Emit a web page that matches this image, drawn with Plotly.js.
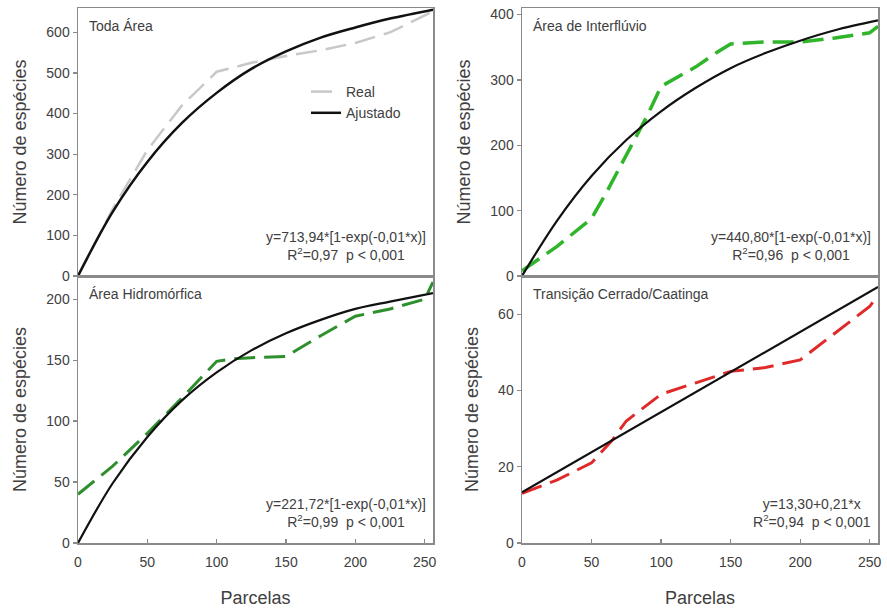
<!DOCTYPE html>
<html>
<head>
<meta charset="utf-8">
<script src="https://cdn.plot.ly/plotly-3.0.1.min.js"></script>
<style>html,body{margin:0;padding:0;background:#fff;}#chart{width:887px;height:608px;}</style>
</head>
<body>
<div id="chart"></div>
<script>
// ---- Data ----
var xTicks = [0, 50, 100, 150, 200, 250];

// Toda Área
var todaRealX = [0, 25, 50, 75, 100, 125, 150, 175, 200, 225, 256];
var todaRealY = [0, 165, 310, 420, 503, 525, 542, 556, 574, 600, 652];
var todaFitX  = [0, 25, 50, 75, 100, 125, 150, 175, 200, 225, 256];
var todaFitY  = [0, 158, 281, 377, 451, 510, 553, 587, 612, 634, 656];

// Área de Interflúvio
var interRealX = [0, 25, 50, 60, 75, 90, 100, 112, 125, 140, 150, 175, 200, 225, 250, 256];
var interRealY = [8, 45, 88, 125, 185, 245, 290, 305, 320, 342, 355, 358, 358, 364, 372, 382];
var interFitX  = [0, 25, 50, 75, 100, 125, 150, 175, 200, 225, 256];
var interFitY  = [0, 84, 153, 208, 252, 288, 318, 341, 360, 376, 391];

// Área Hidromórfica
var hidroRealX = [0, 25, 50, 75, 100, 112, 125, 150, 175, 200, 225, 250, 256];
var hidroRealY = [40, 63, 90, 119, 149, 151, 152, 153, 170, 186, 192, 200, 214];
var hidroFitX  = [0, 25, 50, 75, 100, 125, 150, 175, 200, 225, 256];
var hidroFitY  = [0, 49, 87, 117, 140, 158, 172, 183, 192, 198, 205];

// Transição Cerrado/Caatinga
var transRealX = [0, 25, 50, 65, 75, 100, 125, 150, 175, 200, 225, 250, 256];
var transRealY = [13, 16.5, 21, 27, 32, 39, 42, 45, 46, 48, 55, 62, 65];
var transFitX  = [0, 256];
var transFitY  = [13.3, 67.1];

var panelLabels = ["Toda Área", "Área de Interflúvio", "Área Hidromórfica", "Transição Cerrado/Caatinga"];
var equations = [
  "y=713,94*[1-exp(-0,01*x)]<br>R<sup>2</sup>=0,97&nbsp; p &lt; 0,001",
  "y=440,80*[1-exp(-0,01*x)]<br>R<sup>2</sup>=0,96&nbsp; p &lt; 0,001",
  "y=221,72*[1-exp(-0,01*x)]<br>R<sup>2</sup>=0,99&nbsp; p &lt; 0,001",
  "y=13,30+0,21*x<br>R<sup>2</sup>=0,94&nbsp; p &lt; 0,001"
];
var legendNames = ["Real", "Ajustado"];
var xTitle = "Parcelas";
var yTitle = "Número de espécies";

// ---- Styles ----
var FONT = "Liberation Sans, Arial, sans-serif";
var TXT = "#404040";
var AX = "#8a8a8a";
var DASH = "21px,9px";

var traces = [
  {x: todaRealX, y: todaRealY, xaxis: "x", yaxis: "y", mode: "lines", name: legendNames[0],
   line: {color: "#c8c8c8", width: 2.5, dash: DASH}, showlegend: true},
  {x: todaFitX, y: todaFitY, xaxis: "x", yaxis: "y", mode: "lines", name: legendNames[1],
   line: {color: "#111111", width: 2.5, shape: "spline"}, showlegend: true},

  {x: interRealX, y: interRealY, xaxis: "x2", yaxis: "y2", mode: "lines",
   line: {color: "#2fb52a", width: 3.5, dash: DASH}, showlegend: false},
  {x: interFitX, y: interFitY, xaxis: "x2", yaxis: "y2", mode: "lines",
   line: {color: "#111111", width: 2.2, shape: "spline"}, showlegend: false},

  {x: hidroRealX, y: hidroRealY, xaxis: "x3", yaxis: "y3", mode: "lines",
   line: {color: "#2e8f2e", width: 3, dash: DASH}, showlegend: false},
  {x: hidroFitX, y: hidroFitY, xaxis: "x3", yaxis: "y3", mode: "lines",
   line: {color: "#111111", width: 2.2, shape: "spline"}, showlegend: false},

  {x: transRealX, y: transRealY, xaxis: "x4", yaxis: "y4", mode: "lines",
   line: {color: "#e02a2a", width: 3, dash: DASH}, showlegend: false},
  {x: transFitX, y: transFitY, xaxis: "x4", yaxis: "y4", mode: "lines",
   line: {color: "#111111", width: 2.2}, showlegend: false}
];

var W = 887, H = 608;
var leftDom = [78 / W, 433 / W];
var rightDom = [522 / W, 878 / W];
var topDom = [1 - 276 / H, 1 - 8 / H];
var botDom = [1 - 543 / H, 1 - 276 / H];

function xax(dom, anchor, bottom) {
  return {
    domain: dom, anchor: anchor, range: [0, 256],
    tickvals: xTicks, showticklabels: bottom,
    ticks: bottom ? "inside" : "", ticklen: 4, tickcolor: AX, tickwidth: 1.2,
    showline: true, mirror: true, linecolor: AX, linewidth: 1.5,
    showgrid: false, zeroline: false,
    tickfont: {family: FONT, size: 14, color: TXT},
    ticklabelstandoff: 6,
    title: bottom ? {text: xTitle, font: {family: FONT, size: 18, color: TXT}, standoff: 22} : {text: ""}
  };
}
function yax(dom, anchor, range, dtick) {
  return {
    domain: dom, anchor: anchor, range: range, dtick: dtick,
    ticks: "outside", ticklen: 4, tickcolor: AX, tickwidth: 1.2,
    showline: true, mirror: true, linecolor: AX, linewidth: 1.5,
    showgrid: false, zeroline: false,
    tickfont: {family: FONT, size: 14, color: TXT},
    title: {text: yTitle, font: {family: FONT, size: 18, color: TXT}, standoff: 15}
  };
}

var annots = [];
var refs = [["x", "y"], ["x2", "y2"], ["x3", "y3"], ["x4", "y4"]];
for (var i = 0; i < 4; i++) {
  annots.push({
    xref: refs[i][0] + " domain", yref: refs[i][1] + " domain",
    x: 0.025, y: 0.97, xanchor: "left", yanchor: "top", showarrow: false,
    text: panelLabels[i], font: {family: FONT, size: 14, color: TXT}
  });
  annots.push({
    xref: refs[i][0] + " domain", yref: refs[i][1] + " domain",
    x: 0.985, y: 0.04, xanchor: "right", yanchor: "bottom", showarrow: false,
    align: "center", text: equations[i], font: {family: FONT, size: 14, color: TXT}
  });
}

var layout = {
  width: W, height: H,
  margin: {l: 0, r: 0, t: 0, b: 0},
  paper_bgcolor: "#ffffff", plot_bgcolor: "#ffffff",
  font: {family: FONT, color: TXT},
  showlegend: true,
  legend: {x: 306 / W, y: 1 - 76 / H, xanchor: "left", yanchor: "top",
           bgcolor: "rgba(0,0,0,0)", font: {family: FONT, size: 14, color: TXT},
           tracegroupgap: 0},
  xaxis: xax(leftDom, "y", false),
  yaxis: yax(topDom, "x", [0, 660], 100),
  xaxis2: xax(rightDom, "y2", false),
  yaxis2: yax(topDom, "x2", [0, 410], 100),
  xaxis3: xax(leftDom, "y3", true),
  yaxis3: yax(botDom, "x3", [0, 219], 50),
  xaxis4: xax(rightDom, "y4", true),
  yaxis4: yax(botDom, "x4", [0, 70], 20),
  annotations: annots
};

Plotly.newPlot("chart", traces, layout, {staticPlot: true, displayModeBar: false});
</script>
</body>
</html>
